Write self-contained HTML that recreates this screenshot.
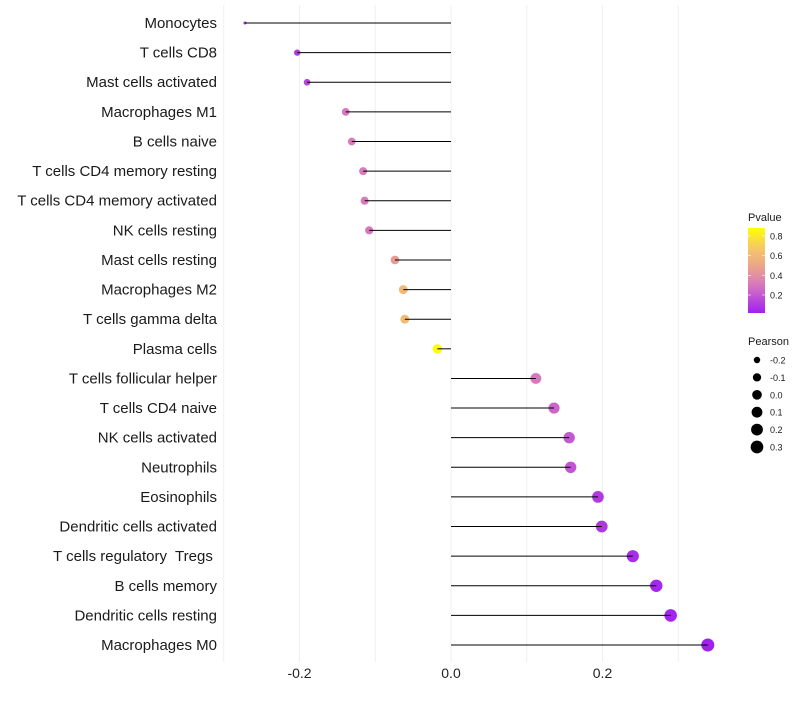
<!DOCTYPE html>
<html><head><meta charset="utf-8"><style>
body{margin:0;background:#fff;font-family:"Liberation Sans",sans-serif}
</style></head><body>
<svg id="chart" width="800" height="700" xmlns="http://www.w3.org/2000/svg" font-family="Liberation Sans, sans-serif"></svg>
<script>
const categories=["Monocytes","T cells CD8","Mast cells activated","Macrophages M1","B cells naive","T cells CD4 memory resting","T cells CD4 memory activated","NK cells resting","Mast cells resting","Macrophages M2","T cells gamma delta","Plasma cells","T cells follicular helper","T cells CD4 naive","NK cells activated","Neutrophils","Eosinophils","Dendritic cells activated","T cells regulatory\u00a0 Tregs\u00a0","B cells memory","Dendritic cells resting","Macrophages M0"];
const pearson=[-0.272,-0.203,-0.190,-0.139,-0.131,-0.116,-0.114,-0.108,-0.074,-0.063,-0.061,-0.018,0.112,0.136,0.156,0.158,0.194,0.199,0.240,0.271,0.290,0.339];
const pvalue=[0.06,0.1,0.14,0.3,0.31,0.32,0.31,0.3,0.45,0.6,0.62,0.88,0.3,0.24,0.2,0.19,0.1,0.09,0.06,0.04,0.03,0.017];
const xTicks=[-0.2,0.0,0.2];
const xTickLabels=["-0.2","0.0","0.2"];
const gridVals=[-0.3,-0.2,-0.1,0,0.1,0.2,0.3];
const pLegend=[0.8,0.6,0.4,0.2];
const sLegend=[-0.2,-0.1,0.0,0.1,0.2,0.3];

const NS="http://www.w3.org/2000/svg";
const svg=document.getElementById('chart');
function el(t,a,p){const e=document.createElementNS(NS,t);for(const k in a)e.setAttribute(k,a[k]);(p||svg).appendChild(e);return e;}
const x=v=>451+v*757.5;
const y=i=>23+i*29.62;
const pMin=0.017,pMax=0.88;
const stops=[[0,[160,32,240]],[0.33,[215,120,190]],[0.55,[235,165,135]],[0.75,[245,195,110]],[1,[255,255,0]]];
function col(p){let t=Math.max(0,Math.min(1,(p-pMin)/(pMax-pMin)));for(let i=1;i<stops.length;i++){if(t<=stops[i][0]){const a=stops[i-1],b=stops[i];const f=(t-a[0])/(b[0]-a[0]);const c=a[1].map((v,j)=>Math.round(v+(b[1][j]-v)*f));return `rgb(${c})`;}}return 'rgb(255,255,0)';}
const sMin=Math.min(...pearson),sMax=Math.max(...pearson);
const rad=v=>{const t=Math.max(0,(v-sMin)/(sMax-sMin));return 1.5+5*Math.sqrt(t);};

gridVals.forEach(g=>{const l=el('line',{x1:x(g),x2:x(g),y1:5,y2:662,stroke:'#efefef','stroke-width':1});
});
xTicks.forEach((t,i)=>{const tx=el('text',{x:x(t),y:678,'font-size':14,'text-anchor':'middle',fill:'#222'});tx.textContent=xTickLabels[i];
});
categories.forEach((c,i)=>{
 const tx=el('text',{x:217,y:y(i)+5,'font-size':15,'text-anchor':'end',fill:'#1a1a1a'});tx.textContent=c;
 
 const pt=el('circle',{cx:x(pearson[i]),cy:y(i),r:rad(pearson[i]),fill:col(pvalue[i])});
 
 const ln=el('line',{x1:x(0),x2:x(pearson[i]),y1:y(i),y2:y(i),stroke:'#000','stroke-width':1});
 
});
const defs=el('defs',{});const lg=el('linearGradient',{id:'pg',x1:0,y1:1,x2:0,y2:0},defs);
for(let k=0;k<=10;k++){const p=pMin+(pMax-pMin)*k/10;el('stop',{offset:k/10,'stop-color':col(p)},lg);}
const lt=el('text',{x:748,y:221,'font-size':11,fill:'#1a1a1a'});lt.textContent='Pvalue';

const bar=el('rect',{x:748,y:228,width:17,height:85,fill:'url(#pg)'});

const ly=p=>313-(p-pMin)/(pMax-pMin)*85;
pLegend.forEach(p=>{el('line',{x1:748,x2:751,y1:ly(p),y2:ly(p),stroke:'#fff','stroke-width':0.6});el('line',{x1:762,x2:765,y1:ly(p),y2:ly(p),stroke:'#fff','stroke-width':0.6});
 const t=el('text',{x:770,y:ly(p)+3.5,'font-size':9,fill:'#1a1a1a'});t.textContent=p.toFixed(1);
 });
const st=el('text',{x:748,y:345,'font-size':11,fill:'#1a1a1a'});st.textContent='Pearson';

sLegend.forEach((v,i)=>{const cy=360+i*17.4;const c=el('circle',{cx:757,cy:cy,r:rad(v),fill:'#000'});
 
 const t=el('text',{x:770,y:cy+3.5,'font-size':9,fill:'#1a1a1a'});t.textContent=v.toFixed(1);
 });
</script>
</body></html>
